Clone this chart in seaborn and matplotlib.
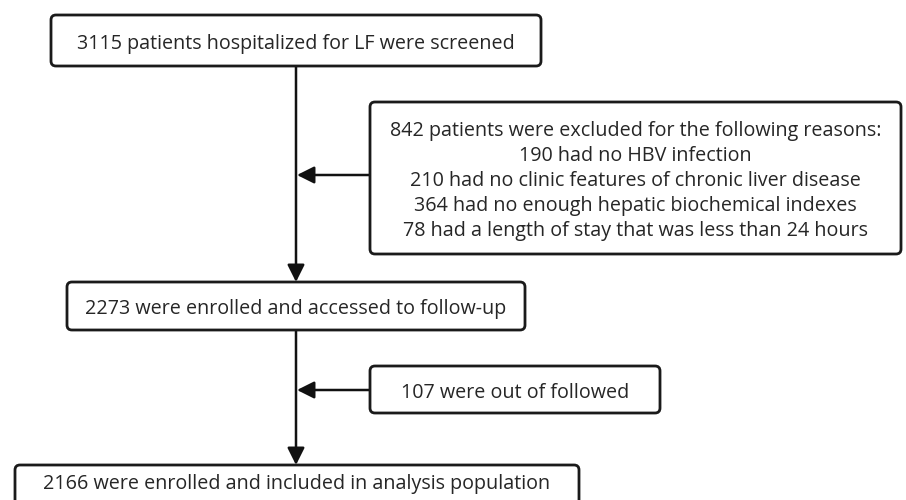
import matplotlib
matplotlib.use("Agg")
import matplotlib.pyplot as plt
import seaborn as sns
from matplotlib.patches import FancyBboxPatch

# flow chart texts
main_steps = [
    "3115 patients hospitalized for LF were screened",
    "2273 were enrolled and accessed to follow-up",
    "2166 were enrolled and included in analysis population",
]
excluded_total = "842 patients were excluded for the following reasons:"
excluded_reasons = [
    "190 had no HBV infection",
    "210 had no clinic features of chronic liver disease",
    "364 had no enough hepatic biochemical indexes",
    "78 had a length of stay that was less than 24 hours",
]
lost_followup = "107 were out of followed"

sns.set_style("white")
plt.rcParams['font.family'] = ['Open Sans', 'DejaVu Sans']

fig = plt.figure(figsize=(9.06, 5.0), dpi=100)
ax = fig.add_axes([0, 0, 1, 1])
ax.set_xlim(0, 906)
ax.set_ylim(500, 0)
ax.axis('off')

fs = 14.2
spine_x = 296


def box(x0, y0, x1, y1, text, ty=None):
    p = FancyBboxPatch((x0, y0), x1 - x0, y1 - y0,
                       boxstyle="round,pad=0,rounding_size=5",
                       fc='white', ec='#1a1a1a', lw=2.0, zorder=2)
    ax.add_patch(p)
    if ty is None:
        ty = (y0 + y1) / 2 + 3
    ax.text((x0 + x1) / 2, ty, text, ha='center', va='center',
            fontsize=fs, color='#262626', linespacing=1.33, zorder=3)


def arrow(x0, y0, x1, y1):
    ax.annotate('', xy=(x1, y1), xytext=(x0, y0),
                arrowprops=dict(arrowstyle='-|>', color='#111111', lw=1.8,
                                mutation_scale=26, shrinkA=0, shrinkB=0),
                zorder=1)


box(51, 15, 541, 66, main_steps[0])
box(370, 102, 901, 254, "\n".join([excluded_total] + excluded_reasons))
box(67, 282, 525, 330, main_steps[1])
box(370, 366, 660, 413, lost_followup)
box(15, 465, 579, 520, main_steps[2], ty=484)

arrow(spine_x, 66, spine_x, 282)
arrow(spine_x, 330, spine_x, 465)
arrow(370, 175, spine_x + 1, 175)
arrow(370, 390, spine_x + 1, 390)

fig.savefig('out.png', dpi=100)
